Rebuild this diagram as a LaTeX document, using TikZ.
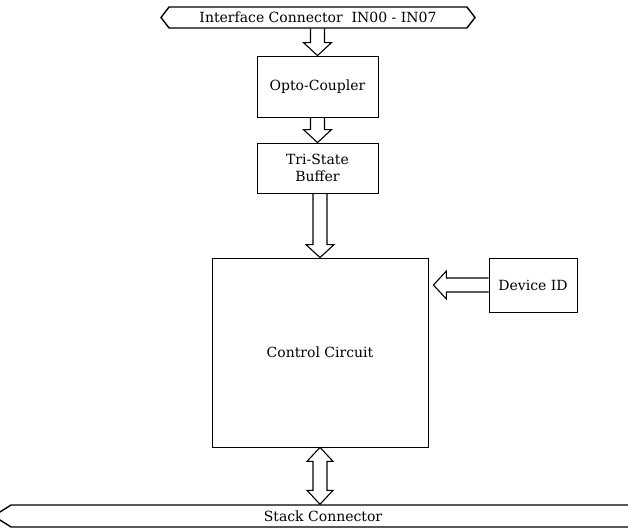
\documentclass[tikz,border=0pt]{standalone}
\usepackage{fontspec}
\setmainfont{DejaVu Serif}
\usetikzlibrary{calc,shapes.symbols}
\tikzset{
  block/.style={draw,rectangle,line width=0.8pt,inner sep=0pt,align=center},
  conn/.style={draw,signal,signal to=west and east,line width=1.4pt,inner sep=0pt},
  txt/.style={font=\fontsize{14}{17}\selectfont},
  bus/.style={line width=1.1pt,to path={
    let \p1=(\tikztostart), \p2=(\tikztotarget),
        \n1={atan2(\y2-\y1,\x2-\x1)}, \n2={veclen(\x2-\x1,\y2-\y1)-13}
    in ($(\p1)+(\n1+90:7pt)$) -- ($(\p1)+(\n1:\n2)+(\n1+90:7pt)$)
       -- ($(\p1)+(\n1:\n2)+(\n1+90:14pt)$) -- (\p2)
       -- ($(\p1)+(\n1:\n2)+(\n1-90:14pt)$) -- ($(\p1)+(\n1:\n2)+(\n1-90:7pt)$)
       -- ($(\p1)+(\n1-90:7pt)$)}},
  bibus/.style={line width=1.1pt,to path={
    let \p1=(\tikztostart), \p2=(\tikztotarget),
        \n1={atan2(\y2-\y1,\x2-\x1)}, \n2={veclen(\x2-\x1,\y2-\y1)-14}
    in ($(\p1)+(\n1:14)+(\n1+90:7pt)$) -- ($(\p1)+(\n1:\n2)+(\n1+90:7pt)$)
       -- ($(\p1)+(\n1:\n2)+(\n1+90:13pt)$) -- (\p2)
       -- ($(\p1)+(\n1:\n2)+(\n1-90:13pt)$) -- ($(\p1)+(\n1:\n2)+(\n1-90:7pt)$)
       -- ($(\p1)+(\n1:14)+(\n1-90:7pt)$) -- ($(\p1)+(\n1:14)+(\n1-90:13pt)$)
       -- (\p1) -- ($(\p1)+(\n1:14)+(\n1+90:13pt)$) -- cycle}}
}
\begin{document}
\begin{tikzpicture}[x=1pt,y=1pt,txt]
 \useasboundingbox (0,0) rectangle (628,531);
 % connectors
 \node[conn,signal pointer angle=105,minimum width=314pt,minimum height=21pt] (iface) at (318,513.5) {};
 \node at (iface) {Interface Connector\ \ IN00 - IN07};
 \node[conn,signal pointer angle=64,minimum width=656pt,minimum height=22pt] (stack) at (321.5,15) {};
 \node at (323,15) {Stack Connector};
 % blocks
 \node[block,minimum width=121pt,minimum height=61pt] (opto) at (317.5,444.5) {Opto-Coupler};
 \node[block,minimum width=121pt,minimum height=50pt] (tri) at (317.5,363) {Tri-State\\Buffer};
 \node[block,minimum width=216pt,minimum height=189pt] (ctrl) at (320,178.5) {Control Circuit};
 \node[block,minimum width=88pt,minimum height=54pt] (devid) at (533,246) {Device ID};
 % buses
 \draw[bus] (opto.north |- iface.south) to (opto.north);
 \draw[bus] (opto.south) to (tri.north);
 \draw[bus] (ctrl.north |- tri.south) to (ctrl.north);
 \draw[bus] (devid.west) to ([xshift=5pt]ctrl.east |- devid.west);
 \draw[bibus] (ctrl.south) to (ctrl.south |- stack.north);
\end{tikzpicture}
\end{document}
